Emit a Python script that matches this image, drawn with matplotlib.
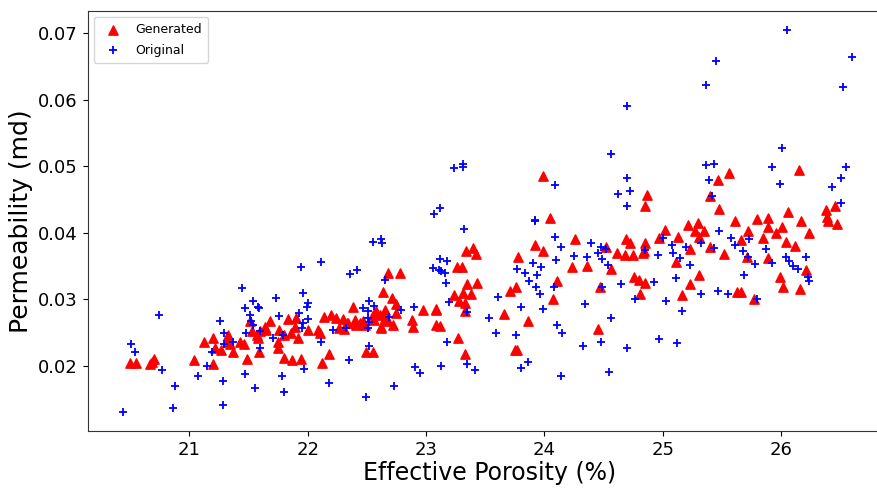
import numpy as np
import matplotlib
matplotlib.use("Agg")
import matplotlib.pyplot as plt

# generated samples (porosity %, permeability md)
gen_phi = [
    20.50, 20.55, 20.67, 20.70, 20.68, 21.04, 21.12, 21.20, 21.20, 21.22, 21.27,
    21.33, 21.32, 21.34, 21.37, 21.43, 21.46, 21.49, 21.51, 21.53, 21.57, 21.58,
    21.60, 21.64, 21.59,
    22.68, 22.78, 22.64, 22.38, 22.97, 23.08, 22.88, 22.89,
    22.14, 22.20, 22.24, 22.30, 22.34, 22.40, 22.44, 22.26, 22.31, 22.09, 22.10, 22.00,
    21.83, 21.90, 21.89, 21.86, 21.92, 21.80, 21.76, 21.68, 21.65, 21.75, 21.75,
    21.80, 21.87, 21.94, 22.12, 22.18, 22.49, 22.55,
    22.58, 22.61, 22.65, 22.68, 22.72, 22.62, 22.75, 22.71, 22.75,
    22.65, 22.66, 22.62, 22.55, 22.56, 22.33, 22.47, 22.48, 22.41, 23.08,
    23.99, 24.05, 24.26, 24.52, 23.92, 23.99, 23.34, 23.40, 23.42, 23.26, 23.30, 23.78,
    24.23, 24.36, 24.11, 24.47, 23.35, 23.43, 23.24, 23.31, 23.38, 23.76, 23.71, 24.07,
    23.28, 23.33, 23.33, 23.08, 23.66, 23.86, 23.12, 24.45, 23.27, 23.75, 23.77, 23.33,
    25.56, 25.47, 25.40, 24.87, 24.85, 25.48, 25.61, 25.21, 25.30, 25.27, 25.35, 25.31,
    25.02, 24.97, 25.13, 24.69, 24.72, 24.85, 24.84, 24.61, 24.68, 24.75, 24.83,
    25.23, 25.40, 25.52, 25.11, 24.56, 25.31, 24.76, 24.80, 24.85, 25.23, 24.81, 25.16, 25.63,
    26.15, 26.06, 26.38, 26.46, 26.39, 26.40, 26.47, 25.80, 25.89, 25.89, 25.72, 26.01,
    26.17, 26.24, 25.96, 25.85, 25.66, 26.04, 26.12, 25.71, 25.89, 26.21, 25.99, 26.02,
    26.16, 25.66, 25.77,
]
gen_perm = [
    0.0204, 0.0204, 0.0202, 0.0210, 0.0205, 0.0208, 0.0236, 0.0241, 0.0203, 0.0227, 0.0224,
    0.0247, 0.0236, 0.0232, 0.0221, 0.0236, 0.0232, 0.0210, 0.0268, 0.0252, 0.0247, 0.0242,
    0.0252, 0.0259, 0.0221,
    0.0339, 0.0339, 0.0311, 0.0288, 0.0284, 0.0286, 0.0269, 0.0258,
    0.0273, 0.0276, 0.0272, 0.0270, 0.0265, 0.0269, 0.0264, 0.0257, 0.0255, 0.0254, 0.0249, 0.0254,
    0.0270, 0.0272, 0.0259, 0.0249, 0.0242, 0.0247, 0.0254, 0.0267, 0.0254, 0.0236, 0.0227,
    0.0212, 0.0209, 0.0210, 0.0204, 0.0218, 0.0220, 0.0221,
    0.0282, 0.0277, 0.0272, 0.0267, 0.0261, 0.0259, 0.0279, 0.0302, 0.0293,
    0.0284, 0.0269, 0.0257, 0.0277, 0.0269, 0.0264, 0.0267, 0.0262, 0.0262, 0.0262,
    0.0485, 0.0422, 0.0390, 0.0379, 0.0382, 0.0372, 0.0373, 0.0377, 0.0368, 0.0348, 0.0349, 0.0364,
    0.0348, 0.0350, 0.0327, 0.0319, 0.0323, 0.0324, 0.0307, 0.0309, 0.0308, 0.0319, 0.0312, 0.0301,
    0.0297, 0.0294, 0.0283, 0.0284, 0.0278, 0.0268, 0.0260, 0.0256, 0.0242, 0.0224, 0.0223, 0.0217,
    0.0490, 0.0479, 0.0455, 0.0457, 0.0440, 0.0436, 0.0417, 0.0412, 0.0414, 0.0403, 0.0403, 0.0393,
    0.0404, 0.0392, 0.0394, 0.0390, 0.0384, 0.0384, 0.0372, 0.0370, 0.0367, 0.0367, 0.0369,
    0.0376, 0.0379, 0.0368, 0.0356, 0.0345, 0.0337, 0.0333, 0.0329, 0.0324, 0.0323, 0.0308, 0.0307, 0.0311,
    0.0494, 0.0432, 0.0434, 0.0440, 0.0423, 0.0417, 0.0413, 0.0420, 0.0422, 0.0409, 0.0403, 0.0408,
    0.0417, 0.0400, 0.0399, 0.0392, 0.0389, 0.0386, 0.0380, 0.0363, 0.0362, 0.0344, 0.0334, 0.0319,
    0.0316, 0.0311, 0.0300,
]

# original measurements
orig_phi = [
    21.44, 20.74, 21.54, 21.47, 21.58, 21.51, 21.26, 21.52, 21.54, 21.29, 21.48, 21.60,
    20.51, 20.54, 21.29, 21.37, 21.19, 21.60, 21.15, 20.77, 21.07, 21.47, 21.28, 20.88,
    21.55, 21.28, 20.86, 20.44,
    22.55, 22.62, 22.63, 21.94, 22.11, 22.36, 22.42, 22.65, 23.06, 21.96, 21.73, 22.00,
    21.99, 21.93, 21.76, 22.00, 21.96, 21.95, 21.59, 22.52, 22.47, 22.51, 22.56, 22.51,
    22.51, 22.52, 22.69, 22.79, 22.90, 22.21, 22.32, 21.71, 21.79, 22.11, 22.52, 22.35,
    21.97, 21.78, 22.18, 21.80, 22.49, 22.73, 22.91, 22.95, 23.11,
    23.24, 23.31, 23.31, 24.09, 23.07, 23.12, 23.92, 23.92, 23.32, 24.09, 24.14, 24.39,
    24.48, 24.25, 24.36, 24.45, 24.49, 24.54, 24.10, 23.12, 23.18, 23.13, 23.16, 23.17,
    23.90, 23.97, 23.77, 23.84, 23.94, 23.87, 23.93, 23.96, 24.08, 24.49, 23.19, 23.35,
    23.61, 23.80, 23.99, 23.53, 24.34, 24.11, 24.15, 23.59, 23.76, 23.18, 24.48, 24.33,
    23.13, 23.35, 23.41, 23.80, 23.86, 24.14, 24.55,
    24.56, 25.37, 25.43, 25.39, 24.70, 24.62, 24.72, 24.70, 25.42, 25.48, 25.58, 25.61,
    24.52, 25.00, 25.08, 25.09, 25.20, 25.15, 24.96, 24.85, 25.32, 25.43, 25.23, 25.11,
    24.93, 24.65, 24.77, 25.03, 25.32, 25.47, 25.55, 25.16, 24.56, 24.97, 25.12, 24.70,
    25.45, 25.37, 24.70, 26.05, 26.60, 26.52, 26.01, 25.92, 26.55,
    25.99, 26.51, 26.43, 26.51, 25.73, 25.68, 25.72, 25.78, 25.69, 25.87, 25.92, 26.04,
    26.07, 26.10, 26.14, 26.21, 26.23, 26.24, 25.80,
]
orig_perm = [
    0.0317, 0.0276, 0.0297, 0.0287, 0.0288, 0.0277, 0.0268, 0.0267, 0.0262, 0.0250, 0.0249, 0.0252,
    0.0232, 0.0220, 0.0233, 0.0236, 0.0220, 0.0227, 0.0199, 0.0193, 0.0185, 0.0188, 0.0177, 0.0170,
    0.0167, 0.0141, 0.0137, 0.0130,
    0.0386, 0.0391, 0.0384, 0.0349, 0.0356, 0.0338, 0.0344, 0.0329, 0.0347, 0.0309, 0.0302, 0.0294,
    0.0288, 0.0279, 0.0275, 0.0270, 0.0264, 0.0257, 0.0287, 0.0297, 0.0287, 0.0282, 0.0290, 0.0272,
    0.0257, 0.0266, 0.0274, 0.0284, 0.0289, 0.0254, 0.0257, 0.0242, 0.0247, 0.0236, 0.0229, 0.0209,
    0.0195, 0.0184, 0.0174, 0.0161, 0.0153, 0.0170, 0.0198, 0.0189, 0.0344,
    0.0497, 0.0504, 0.0499, 0.0472, 0.0428, 0.0438, 0.0419, 0.0417, 0.0405, 0.0393, 0.0378, 0.0384,
    0.0378, 0.0365, 0.0363, 0.0369, 0.0360, 0.0352, 0.0359, 0.0361, 0.0358, 0.0342, 0.0339, 0.0324,
    0.0354, 0.0348, 0.0346, 0.0340, 0.0336, 0.0327, 0.0319, 0.0308, 0.0319, 0.0318, 0.0296, 0.0281,
    0.0303, 0.0288, 0.0286, 0.0272, 0.0293, 0.0262, 0.0249, 0.0250, 0.0247, 0.0236, 0.0236, 0.0230,
    0.0199, 0.0202, 0.0194, 0.0197, 0.0205, 0.0185, 0.0191,
    0.0519, 0.0502, 0.0504, 0.0480, 0.0483, 0.0459, 0.0463, 0.0441, 0.0456, 0.0403, 0.0392, 0.0382,
    0.0375, 0.0392, 0.0382, 0.0370, 0.0378, 0.0362, 0.0367, 0.0374, 0.0384, 0.0377, 0.0352, 0.0332,
    0.0326, 0.0323, 0.0300, 0.0297, 0.0308, 0.0313, 0.0308, 0.0283, 0.0272, 0.0240, 0.0234, 0.0227,
    0.0659, 0.0623, 0.0590, 0.0705, 0.0664, 0.0619, 0.0528, 0.0499, 0.0499,
    0.0473, 0.0482, 0.0469, 0.0445, 0.0391, 0.0372, 0.0363, 0.0353, 0.0337, 0.0376, 0.0354, 0.0364,
    0.0357, 0.0350, 0.0345, 0.0363, 0.0334, 0.0327, 0.0300,
]

fig = plt.figure(figsize=(8.77, 4.88), dpi=100)
# axes run a bit past the right edge, the source picture was cropped there
ax = fig.add_axes([0.1, 0.117, 0.916, 0.861])

ax.scatter(gen_phi, gen_perm, marker='^', color='red', s=45, label='Generated')
ax.scatter(orig_phi, orig_perm, marker='+', color='blue', s=40, linewidths=1.3, label='Original')

ax.set_xlim(20.14, 26.93)
ax.set_ylim(0.0102, 0.0734)
ax.set_xticks([21, 22, 23, 24, 25, 26])
ax.set_yticks([0.02, 0.03, 0.04, 0.05, 0.06, 0.07])
ax.tick_params(labelsize=13)
for sp in ax.spines.values():
    sp.set_color('#333333')

ax.set_xlabel('Effective Porosity (%)', fontsize=17, labelpad=2)
ax.set_ylabel('Permeability (md)', fontsize=18)
ax.legend(loc='upper left', fontsize=9, labelspacing=0.6, borderpad=0.5)

fig.savefig('out.png', dpi=100)
